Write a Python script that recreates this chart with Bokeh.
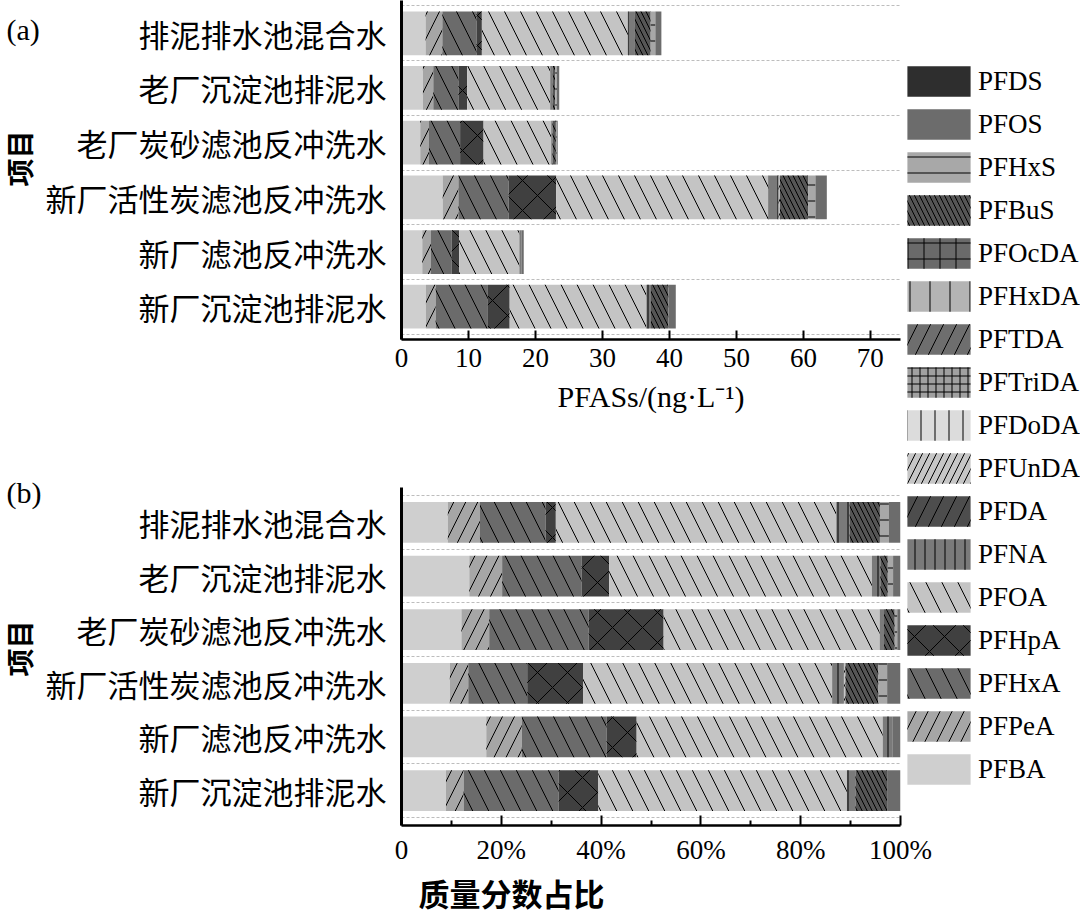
import math
from bokeh.plotting import figure
from bokeh.models import (ColumnDataSource, FactorRange, Range1d, FixedTicker,
                          Legend, LegendItem)
from bokeh.core.properties import value
from bokeh.layouts import column, row
from bokeh.embed import file_html
from bokeh.resources import INLINE

# ---------------- data ----------------
sites = ["排泥排水池混合水", "老厂沉淀池排泥水", "老厂炭砂滤池反冲洗水",
         "新厂活性炭滤池反冲洗水", "新厂滤池反冲洗水", "新厂沉淀池排泥水"]

# stack order left -> right
compounds = ["PFBA", "PFPeA", "PFHxA", "PFHpA", "PFOA", "PFNA", "PFDA", "PFUnDA",
             "PFDoDA", "PFTriDA", "PFTDA", "PFHxDA", "PFOcDA", "PFBuS", "PFHxS",
             "PFOS", "PFDS"]

# concentrations, ng/L, in order of `sites`
PFBA    = [3.6, 3.2, 2.8, 6.15, 3.1, 3.65]
PFPeA   = [2.5, 1.55, 1.3, 2.35, 1.3, 1.45]
PFHxA   = [5.1, 3.75, 4.65, 7.5, 3.1, 7.8]
PFHpA   = [0.8, 1.3, 3.5, 7.1, 1.1, 3.25]
PFOA    = [21.8, 12.4, 10.1, 31.7, 9.0, 20.4]
PFNA    = [1.05, 0.4, 0.2, 1.5, 0.35, 0.7]
PFDA    = [0, 0, 0, 0, 0, 0]
PFUnDA  = [0, 0, 0, 0.2, 0, 0]
PFDoDA  = [0, 0, 0, 0, 0, 0]
PFTriDA = [0, 0, 0, 0, 0, 0]
PFTDA   = [0, 0, 0, 0, 0, 0]
PFHxDA  = [0, 0, 0, 0, 0, 0]
PFOcDA  = [0, 0, 0, 0, 0, 0]
PFBuS   = [2.35, 0.35, 0.5, 4.2, 0, 2.6]
PFHxS   = [0.7, 0.25, 0.12, 1.1, 0, 0]
PFOS    = [0.9, 0.35, 0.15, 1.7, 0.3, 1.1]
PFDS    = [0, 0, 0, 0, 0, 0]

conc_ticks = [0, 10, 20, 30, 40, 50, 60, 70]
pct_ticks = [0, 20, 40, 60, 80, 100]
pct_minor = [10, 30, 50, 70, 90]
pct_labels = ["0", "20%", "40%", "60%", "80%", "100%"]

series = [PFBA, PFPeA, PFHxA, PFHpA, PFOA, PFNA, PFDA, PFUnDA, PFDoDA, PFTriDA,
          PFTDA, PFHxDA, PFOcDA, PFBuS, PFHxS, PFOS, PFDS]

# ---------------- styles ----------------
fills = ["#cfcfcf", "#a6a6a6", "#6b6b6b", "#404040", "#c4c4c4", "#7a7a7a", "#4d4d4d",
         "#c6c6c6", "#dcdcdc", "#a0a0a0", "#6e6e6e", "#b4b4b4", "#6a6a6a", "#555555",
         "#a8a8a8", "#6c6c6c", "#2e2e2e"]
hatches = [None, "/", "\\", "x", "\\", "|", "/", "/", "|", "+", "/", "|", "+", "\\",
           "-", None, None]
hscales = [24, 24, 32, 30, 32, 10, 26, 14, 14, 8, 26, 20, 16, 10, 16, 12, 12]

totals = [sum(s[i] for s in series) for i in range(len(sites))]
abs_data = {"site": sites}
pct_data = {"site": sites}
for name, s in zip(compounds, series):
    abs_data[name] = s
    pct_data[name] = [v / t * 100 for v, t in zip(s, totals)]

SERIF = "Liberation Serif"
CJK = "Noto Sans CJK SC"
STRIP = 42


def make_fig(data, x_range, ypad, fh, top_b, bot_b, bar_h):
    p = figure(y_range=FactorRange(factors=sites[::-1], range_padding=ypad,
                                   range_padding_units="absolute"),
               x_range=x_range, frame_width=499, frame_height=fh,
               min_border_left=401 - STRIP, min_border_right=180, min_border_top=top_b,
               min_border_bottom=bot_b, output_backend="svg", toolbar_location=None,
               outline_line_color=None, background_fill_color="white")
    p.xgrid.visible = False
    p.ygrid.visible = False
    factors = sites[::-1]
    bounds = [[f, -0.5] for f in factors] + [[factors[-1], 0.5]]
    p.hspan(y=bounds, line_color="#bdbdbd", line_width=1, line_dash="3 2")
    src = ColumnDataSource(data)
    rs = p.hbar_stack(compounds, y="site", height=bar_h, source=src,
                      fill_color=fills, line_color=None, hatch_pattern=hatches,
                      hatch_scale=hscales, hatch_color="black", hatch_weight=1)
    ya = p.yaxis[0]
    ya.major_tick_line_color = None
    ya.minor_tick_line_color = None
    ya.axis_line_width = 3
    ya.major_label_standoff = 9
    ya.major_label_text_font = CJK
    ya.major_label_text_font_size = "31px"
    ya.major_label_text_color = "black"
    xa = p.xaxis[0]
    xa.axis_line_width = 2.5
    xa.major_tick_in = 9
    xa.major_tick_out = 0
    xa.major_tick_line_width = 2
    xa.minor_tick_in = 5
    xa.minor_tick_out = 0
    xa.minor_tick_line_width = 2
    xa.major_label_standoff = 9
    xa.major_label_text_font = SERIF
    xa.major_label_text_font_size = "27px"
    xa.major_label_text_color = "black"
    xa.axis_label_text_color = "black"
    return p, rs


def add_legend(p, rs, idx, loc):
    items = [LegendItem(label=compounds[i], renderers=[rs[i]]) for i in idx]
    leg = Legend(items=items, location=loc, glyph_width=79, glyph_height=38,
                 label_standoff=0, spacing=5, padding=0, margin=0,
                 label_height=30, border_line_color=None, background_fill_alpha=0,
                 label_text_font=SERIF, label_text_font_size="27px",
                 label_text_color="black")
    p.add_layout(leg, "right")


# ---------------- (a) ----------------
p1, rs1 = make_fig(abs_data, Range1d(0, 74.5), 0.1, 339, 0, 108, 0.8)
xa1 = p1.xaxis[0]
xa1.ticker = FixedTicker(ticks=conc_ticks)
xa1.minor_tick_line_color = None
xa1.axis_label = "PFASs/(ng·L⁻¹)"
xa1.axis_label_text_font = SERIF
xa1.axis_label_text_font_style = "normal"
xa1.axis_label_text_font_size = "30px"
xa1.axis_label_standoff = 10
add_legend(p1, rs1, list(range(16, 7, -1)), (-1, -105))

# ---------------- (b) ----------------
p2, rs2 = make_fig(pct_data, Range1d(0, 100), 0.15, 338, 40, 92, 0.76)
xa2 = p2.xaxis[0]
xa2.ticker = FixedTicker(ticks=pct_ticks, minor_ticks=pct_minor)
xa2.major_tick_in = 10
xa2.major_label_overrides = {t: l for t, l in zip(pct_ticks, pct_labels)}
xa2.axis_label = "质量分数占比" + "\u3000" * 9
xa2.axis_label_text_font = CJK
xa2.axis_label_text_font_style = "bold"
xa2.axis_label_text_font_size = "31px"
xa2.axis_label_standoff = 2
add_legend(p2, rs2, list(range(7, -1, -1)), (-1, 37))

# ---------------- left strip: panel tags and the shared axis title ----------------
strip = figure(width=STRIP, height=917, x_range=Range1d(0, STRIP),
               y_range=Range1d(917, 0), x_axis_type=None, y_axis_type=None,
               min_border=0, output_backend="svg", toolbar_location=None,
               outline_line_color=None)
strip.grid.visible = False
strip.text(x=[6, 6], y=[29, 492], text=["(a)", "(b)"], text_font=value(SERIF),
           text_font_size="30px", text_baseline="middle", text_align="left",
           text_color="black")
strip.text(x=[18, 18], y=[158, 648], text=["项目", "项目"], angle=math.pi / 2,
           text_font=value(CJK), text_font_style="bold", text_font_size="28px",
           text_baseline="middle", text_align="center", text_color="black")

layout = row(strip, column(p1, p2))
open("out.html", "w").write(file_html(layout, INLINE))
